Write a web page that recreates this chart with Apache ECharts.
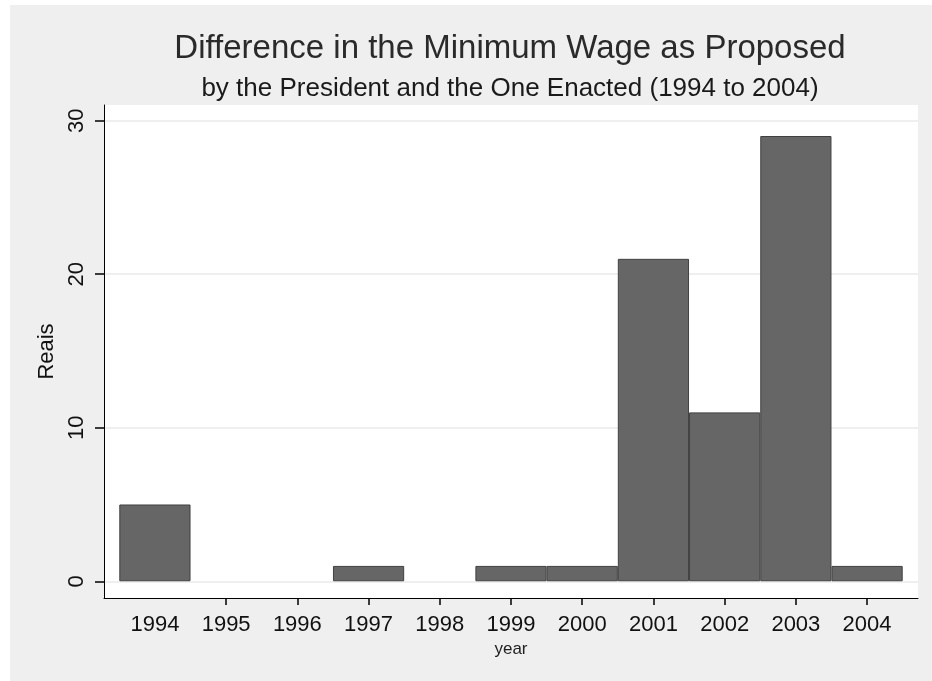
<!DOCTYPE html>
<html>
<head>
<meta charset="utf-8">
<script src="https://cdn.jsdelivr.net/npm/echarts@6/dist/echarts.min.js"></script>
<style>
html,body{margin:0;padding:0;background:#fff;}
#chart{width:932px;height:681px;}
</style>
</head>
<body>
<div id="chart"></div>
<script>
const years = [1994, 1995, 1996, 1997, 1998, 1999, 2000, 2001, 2002, 2003, 2004];
const values = [5, 0, 0, 1, 0, 1, 1, 21, 11, 29, 1];
const yTicks = [0, 10, 20, 30];
const xTickYears = [1995, 1996, 1997, 1998, 1999, 2000, 2001, 2002, 2003, 2004];
const titleText = 'Difference in the Minimum Wage as Proposed';
const subtitleText = 'by the President and the One Enacted (1994 to 2004)';

const FONT = '"Liberation Sans", Arial, sans-serif';
const chart = echarts.init(document.getElementById('chart'), null, {renderer: 'canvas'});
const seriesData = years.map((y, i) => [y, values[i] === 0 ? null : values[i]]);

chart.setOption({
  backgroundColor: '#ffffff',
  animation: false,
  graphic: [{
    type: 'rect', z: -10, silent: true,
    shape: {x: 10, y: 5, width: 922, height: 676},
    style: {fill: '#efefef'}
  }],
  title: [
    {text: titleText, left: 510, top: 32, textAlign: 'center', padding: 0,
     textStyle: {fontFamily: FONT, fontSize: 33, fontWeight: 'normal', color: '#2a2a2a'}},
    {text: subtitleText, left: 510, top: 76, textAlign: 'center', padding: 0,
     textStyle: {fontFamily: FONT, fontSize: 26, fontWeight: 'normal', color: '#1a1a1a'}}
  ],
  grid: {left: 104, right: 14, top: 105, bottom: 83, show: true, backgroundColor: '#ffffff', borderWidth: 0, containLabel: false},
  xAxis: {
    type: 'value', min: 1993.285, max: 2004.715,
    name: 'year', nameLocation: 'middle', nameGap: 38,
    nameTextStyle: {fontFamily: FONT, fontSize: 17, color: '#222'},
    axisLine: {show: true, onZero: false, lineStyle: {color: '#000', width: 1}},
    axisTick: {show: true, length: 7, customValues: xTickYears, lineStyle: {color: '#000', width: 1.5}},
    axisLabel: {customValues: years, fontFamily: FONT, fontSize: 22, color: '#111', margin: 16,
      formatter: v => String(Math.round(v))},
    splitLine: {show: false}
  },
  yAxis: {
    type: 'value', min: -1.09, max: 31.02,
    name: 'Reais', nameLocation: 'middle', nameGap: 40, nameRotate: 90,
    nameTextStyle: {fontFamily: FONT, fontSize: 22, color: '#111'},
    axisLine: {show: true, onZero: false, lineStyle: {color: '#000', width: 1}},
    axisTick: {show: true, length: 9, customValues: yTicks, lineStyle: {color: '#000', width: 1.5}},
    axisLabel: {customValues: yTicks, rotate: 90, fontFamily: FONT, fontSize: 22, color: '#111', margin: 16,
      formatter: v => String(Math.round(v))},
    splitLine: {show: true, lineStyle: {color: '#efefef', width: 2}}
  },
  series: [{
    type: 'bar',
    data: seriesData,
    barWidth: '100%',
    itemStyle: {color: '#666666', borderColor: '#404040', borderWidth: 1}
  }]
});
</script>
</body>
</html>
